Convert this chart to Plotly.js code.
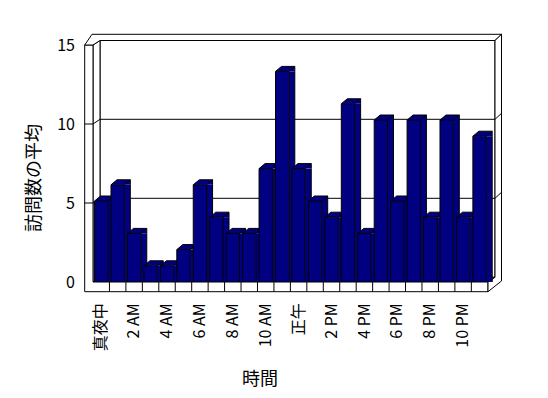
<!DOCTYPE html>
<html><head><meta charset="utf-8">
<script src="https://cdn.plot.ly/plotly-3.0.1.min.js"></script>
<style>html,body{margin:0;padding:0;background:#fff;}#chart{width:548px;height:398px;}</style>
</head><body><div id="chart"></div>
<script>
// ---- data ----
const categories = ['真夜中','1 AM','2 AM','3 AM','4 AM','5 AM','6 AM','7 AM','8 AM','9 AM','10 AM','11 AM',
                    '正午','1 PM','2 PM','3 PM','4 PM','5 PM','6 PM','7 PM','8 PM','9 PM','10 PM','11 PM'];
const visits = [5,6,3,1,1,2,6,4,3,3,7,13,7,5,4,11,3,10,5,10,4,10,4,9];
const xTickLabels = ['真夜中','2 AM','4 AM','6 AM','8 AM','10 AM','正午','2 PM','4 PM','6 PM','8 PM','10 PM'];
const yTickValues = [0,5,10,15];
const xTitle = '時間';
const yTitle = '訪問数の平均';

// ---- layout geometry ----
const W = 548, H = 398, M = {l:93, r:52, t:45, b:116};
const PW = W - M.l - M.r, PH = H - M.t - M.b;
const px = X => (X - M.l) / PW;
const py = Y => (H - M.b - Y) / PH;
const P = (X, Y) => px(X) + ',' + py(Y);
const FONT = '"Noto Sans CJK JP", "Noto Sans", sans-serif';
const NAVY = '#000080';
const BLK = {color:'#000', width:1};
const NOLINE = {width:0};

const shapes = [];
function paperPath(pts, fill) {
  shapes.push({type:'path', xref:'paper', yref:'paper', layer:'below',
    path: 'M' + pts.map(p => P(p[0], p[1])).join(' L') + ' Z',
    fillcolor: fill || 'rgba(0,0,0,0)', line: BLK});
}
// back wall front surface
paperPath([[100,40.5],[495,40.5],[495,277.3],[100,277.3]], '#fff');
// floor top surface
paperPath([[93,282],[100,277.3],[495,277.3],[488,282]], '#fff');
// left wall inner face
paperPath([[93,45],[100,40.5],[100,277.3],[93,282]], '#fff');
// left wall front face + floor front face
paperPath([[84.7,45],[93,45],[93,282],[488,282],[488,291.7],[84.7,291.7]], '#fff');
// top of walls
paperPath([[84.7,45],[92,34.3],[501.5,34.3],[495,40.5],[100,40.5],[93,45]], '#fff');
// right side of back wall / floor slab
paperPath([[495,40.5],[501.5,34.3],[501.5,281],[488,291.7],[488,282],[495,277.3]], '#fff');

// ticks on left wall + gridlines on back wall (from tick values)
yTickValues.filter(v => v > yTickValues[0] && v < yTickValues[yTickValues.length-1]).forEach(v => {
  shapes.push({type:'path', xref:'paper', yref:'y2', ysizemode:'pixel', yanchor:v, layer:'below',
    path: 'M' + px(84.7) + ',0 L' + px(93) + ',0 L' + px(100) + ',4.7 L' + px(495) + ',4.7 L' + px(501.5) + ',10.7',
    line: BLK});
});
// category dividers on floor front face
categories.forEach((c, i) => {
  if (i === 0) return;
  shapes.push({type:'line', xref:'x', yref:'paper', layer:'below',
    x0: i - 0.5, x1: i - 0.5, y0: py(291.7), y1: py(282), line: BLK});
});

// 3D faces of the bars
const HW = 6.65, DX = 6, DY = 5;
categories.forEach((c, i) => {
  const v = visits[i];
  shapes.push({type:'rect', xref:'x', yref:'y', xsizemode:'pixel', xanchor:c, layer:'below',
    x0: HW, x1: HW + DX, y0: 0, y1: v, fillcolor: NAVY, line: NOLINE});
  shapes.push({type:'path', xref:'x', yref:'y', xsizemode:'pixel', ysizemode:'pixel', xanchor:c, yanchor:v, layer:'below',
    path: `M${-HW},0 L${-HW+DX},${DY} L${HW+DX},${DY} L${HW+DX},0 L${HW},0 Z`, fillcolor: NAVY, line: NOLINE});
  shapes.push({type:'path', xref:'x', yref:'y', xsizemode:'pixel', ysizemode:'pixel', xanchor:c, yanchor:v, layer:'below',
    path: `M${-HW},0 L${-HW+DX},${DY} L${HW+DX},${DY} L${HW},0 M${HW+DX},${DY} L${HW+DX},0`, line: BLK});
  shapes.push({type:'line', xref:'x', yref:'y', xsizemode:'pixel', xanchor:c, layer:'below',
    x0: HW + DX, x1: HW + DX, y0: 0, y1: v, line: BLK});
});

const traces = [
  {type:'bar', x: categories, y: visits, width: 0.81, xaxis:'x', yaxis:'y',
   marker:{color: NAVY, line: BLK}, hoverinfo:'skip', showlegend:false},
  {type:'scatter', x: [], y: [], xaxis:'x', yaxis:'y2', hoverinfo:'skip', showlegend:false}
];

const layout = {
  width: W, height: H, margin: M,
  paper_bgcolor:'#fff', plot_bgcolor:'rgba(0,0,0,0)',
  showlegend:false, hovermode:false,
  font:{family: FONT, color:'#000', size:16},
  xaxis:{type:'category', categoryorder:'array', categoryarray: categories, range:[-0.5, 24],
    tickmode:'array', tickvals: xTickLabels, ticktext: xTickLabels, tickangle:-90,
    ticks:'', showline:false, showgrid:false, zeroline:false, automargin:false,
    ticklabelstandoff: 17, tickfont:{family: FONT, size:16, color:'#000'}},
  yaxis:{range:[0, 14.63], showticklabels:false, ticks:'', showline:false, showgrid:false,
    zeroline:false, automargin:false},
  yaxis2:{range:[0, 15], overlaying:'y', side:'left', tickmode:'array', tickvals: yTickValues,
    ticks:'', showline:false, showgrid:false, zeroline:false, automargin:false,
    ticklabelstandoff: 17, tickfont:{family: FONT, size:16, color:'#000'}},
  shapes: shapes,
  annotations: [
    {text: yTitle, xref:'paper', yref:'paper', x: px(32), y: py(178), textangle:-90,
     showarrow:false, xanchor:'center', yanchor:'middle', font:{family: FONT, size:18, color:'#000'}},
    {text: xTitle, xref:'paper', yref:'paper', x: px(260), y: py(377),
     showarrow:false, xanchor:'center', yanchor:'middle', font:{family: FONT, size:18, color:'#000'}}
  ]
};

Plotly.newPlot('chart', traces, layout, {staticPlot:true, displayModeBar:false});
</script>
</body></html>
